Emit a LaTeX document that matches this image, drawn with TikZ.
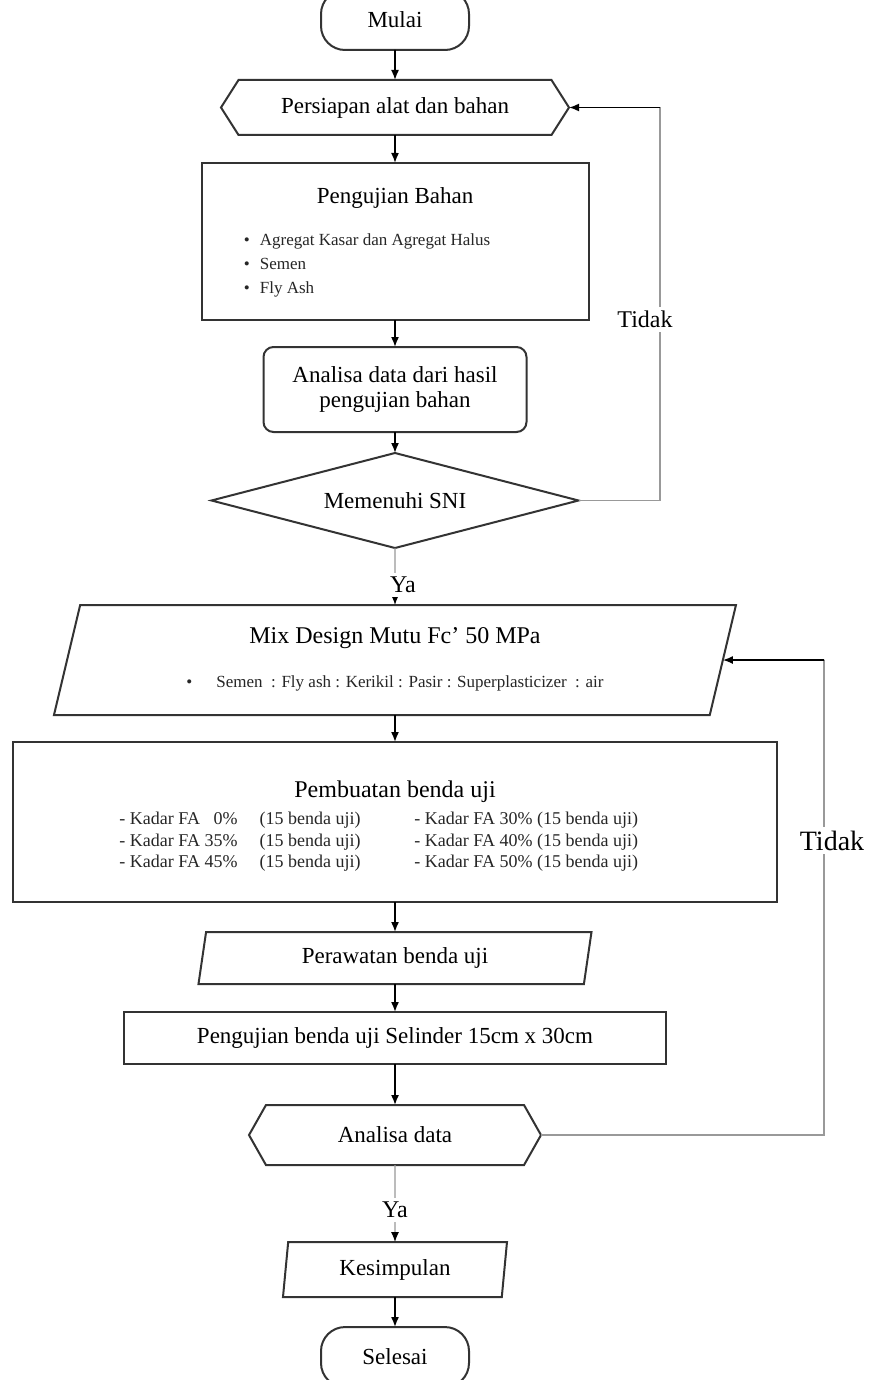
\documentclass[tikz,border=0pt]{standalone}
\usepackage{fontspec}
\setmainfont{Liberation Serif}
\usetikzlibrary{arrows.meta}
\usetikzlibrary{positioning}
\usetikzlibrary{shapes.geometric}
\usetikzlibrary{shapes.symbols}
\tikzset {
  box/.style = {
    draw = black!80,
    line width = 1pt,
    outer sep = 0pt,
    inner sep = 0pt,
    font = \fontsize{11.5}{14}\selectfont
  },
  % start and end
  terminal/.style = {
    box,
    rectangle,
    rounded corners = 12pt,
    minimum width = 74pt,
    minimum height = 26pt
  },
  % preparation (hexagon)
  prep/.style = {
    box,
    signal,
    signal to = west and east
  },
  process/.style = {
    box,
    rectangle
  },
  % input / output
  data/.style = {
    box,
    trapezium,
    trapezium left angle = 70,
    trapezium right angle = 110,
    trapezium stretches body
  },
  decision/.style = {
    box,
    diamond,
    aspect = 3.86
  },
  label text/.style = {
    font = \fontsize{11.5}{14}\selectfont,
    inner sep = 0pt
  },
  small text/.style = {
    font = \fontsize{8.5}{12}\selectfont,
    text = black!85,
    inner sep = 0pt,
    align = left
  },
  answer/.style = {
    fill = white,
    inner sep = 2pt,
    font = \fontsize{12}{14}\selectfont
  },
  flow/.style = {
    draw = black,
    line width = 0.8pt,
    -{Latex[length = 5pt, width = 4pt]}
  },
  % path back to an earlier step
  back line/.style = {
    draw = black!40,
    line width = 0.6pt
  }
}

\begin{document}
\begin{tikzpicture}[x = 0.5pt, y = -0.5pt]
  \fill[white] (0,0) rectangle (871,1380);
  \useasboundingbox (0,0) rectangle (871,1380);
  \clip (0,0) rectangle (871,1380);

  \node[terminal, minimum height = 30pt] (mulai) at (395,20) {Mulai};
  \node[prep, signal pointer angle = 115, minimum width = 174pt, minimum height = 27.5pt]
    (persiapan) [below=15pt of mulai] {Persiapan alat dan bahan};
  \node[process, minimum width = 193.5pt, minimum height = 78.5pt]
    (uji-bahan) [below=14pt of persiapan] {};
  \node[label text] (uji-bahan-title) at ([yshift=-17.5pt]uji-bahan.north) {Pengujian Bahan};
  \node[small text, anchor=west] (uji-bahan-list) at ([xshift=21pt, yshift=-11.75pt]uji-bahan.west)
    {\textbullet\hspace{5pt}Agregat Kasar dan Agregat Halus\\
     \textbullet\hspace{5pt}Semen\\
     \textbullet\hspace{5pt}Fly Ash};
  \node[box, rectangle, rounded corners = 5pt, minimum width = 131.5pt, minimum height = 42.5pt,
    align = center, font = \fontsize{11.5}{12.5}\selectfont]
    (analisa-bahan) [below=13.5pt of uji-bahan] {Analisa data dari hasil\\pengujian bahan};
  \node[decision, minimum width = 183.5pt, minimum height = 47.5pt]
    (sni) [below=10.5pt of analisa-bahan] {Memenuhi SNI};

  \node[data, minimum width = 341pt, minimum height = 55pt] (mix) [below=28.5pt of sni]
    {\begin{tabular}{@{}c@{}}
      \fontsize{12}{14}\selectfont Mix Design Mutu Fc' 50 MPa\\[8pt]
      {\fontsize{8.5}{12}\selectfont\color{black!85}\textbullet\hspace{12pt}Semen\ \ : Fly ash : Kerikil : Pasir : Superplasticizer\ \ : air}
    \end{tabular}};
  \node[process, minimum width = 382pt, minimum height = 80pt] (pembuatan) [below=13.5pt of mix] {};
  \node[label text, font = \fontsize{12}{14}\selectfont] (pembuatan-title)
    at ([yshift=-25pt]pembuatan.north) {Pembuatan benda uji};
  \node[small text, font = \fontsize{9}{10.75}\selectfont, anchor=west] (kadar-kiri)
    at ([xshift=53pt, yshift=-10pt]pembuatan.west)
    {\begin{tabular}{@{}l@{\hspace{11pt}}l@{}}
      - Kadar FA \ \ 0\% & (15 benda uji)\\
      - Kadar FA 35\%    & (15 benda uji)\\
      - Kadar FA 45\%    & (15 benda uji)
    \end{tabular}};
  \node[small text, font = \fontsize{9}{10.75}\selectfont, anchor=west] (kadar-kanan)
    at ([xshift=200.5pt, yshift=-10pt]pembuatan.west)
    {\begin{tabular}{@{}l@{}}
      - Kadar FA 30\% (15 benda uji)\\
      - Kadar FA 40\% (15 benda uji)\\
      - Kadar FA 50\% (15 benda uji)
    \end{tabular}};
  \node[data, minimum width = 196.5pt, minimum height = 26pt]
    (perawatan) [below=15pt of pembuatan] {Perawatan benda uji};
  \node[process, minimum width = 271pt, minimum height = 26pt]
    (uji-benda) [below=14pt of perawatan] {Pengujian benda uji Selinder 15cm x 30cm};
  \node[prep, signal pointer angle = 121, minimum width = 146pt, minimum height = 30pt]
    (analisa) [below=20.5pt of uji-benda] {Analisa data};
  \node[data, trapezium left angle = 76, trapezium right angle = 104,
    minimum width = 112pt, minimum height = 27.5pt]
    (kesimpulan) [below=38.5pt of analisa] {Kesimpulan};
  \node[terminal, minimum height = 30pt] (selesai) [below=15pt of kesimpulan] {Selesai};

  \draw[flow] (mulai) -- (persiapan);
  \draw[flow] (persiapan) -- (uji-bahan);
  \draw[flow] (uji-bahan) -- (analisa-bahan);
  \draw[flow] (analisa-bahan) -- (sni);
  \draw[back line, -{Latex[length = 5pt, width = 4pt, black]}] (sni) --
    node[answer, pos=0.65, xshift=4pt] (ya-sni) {Ya} (mix);
  \draw[flow] (mix) -- (pembuatan);
  \draw[flow] (pembuatan) -- (perawatan);
  \draw[flow] (perawatan) -- (uji-benda);
  \draw[flow] (uji-benda) -- (analisa);
  \draw[back line, -{Latex[length = 5pt, width = 4pt, black]}] (analisa) --
    node[answer, pos=0.58] (ya-analisa) {Ya} (kesimpulan);
  \draw[flow] (kesimpulan) -- (selesai);

  \coordinate (back-sni) at (660,107.5);
  \draw[back line] (sni.east) -| node[answer, pos=0.73, xshift=-7.5pt] (tidak-sni) {Tidak} (back-sni);
  \draw[flow] (back-sni) -- (persiapan.east);
  \coordinate (back-analisa) at (824,660);
  \draw[back line] (analisa.east) -| node[answer, pos=0.81, xshift=4pt,
    font = \fontsize{14}{16}\selectfont] (tidak-analisa) {Tidak} (back-analisa);
  \draw[flow] (back-analisa) -- (mix.east);
\end{tikzpicture}
\end{document}
